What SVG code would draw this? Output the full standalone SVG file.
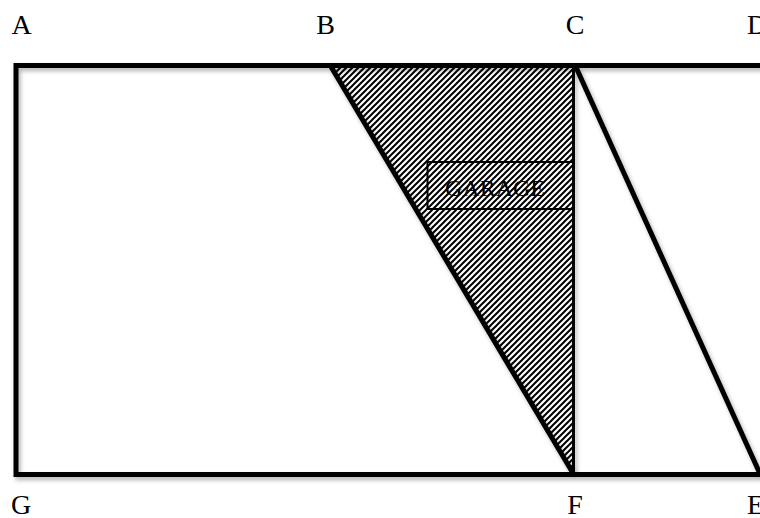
<svg xmlns="http://www.w3.org/2000/svg" width="760" height="518" viewBox="0 0 760 518">
<defs>
<pattern id="hatch" patternUnits="userSpaceOnUse" width="6" height="6">
<path d="M-1,1 L1,-1 M0,6 L6,0 M5,7 L7,5" stroke="#000" stroke-width="2"/>
</pattern>
<filter id="sh" x="-5%" y="-5%" width="110%" height="110%">
<feDropShadow dx="2" dy="3" stdDeviation="2" flood-color="#000" flood-opacity="0.3"/>
</filter>
</defs>
<style>
.lbl{font-family:"Liberation Serif","DejaVu Serif",serif;font-size:28px;fill:#000}
.thick{stroke:#000;stroke-width:5;fill:none;stroke-linecap:butt}
.thin{stroke:#000;stroke-width:3;fill:none}
.gar{font-family:"Liberation Serif","DejaVu Serif",serif;font-size:24px;fill:#000}
</style>
<rect width="760" height="518" fill="#fff"/>
<g id="garage-area">
<polygon points="330,65 573.5,65 573.5,474" fill="url(#hatch)"/>
</g>
<g id="lines" filter="url(#sh)">
<polyline class="thick" points="765,65.5 16,65.5 16,474.5 765,474.5"/>
<line class="thick" x1="330" y1="65" x2="573.5" y2="474"/>
<line class="thin" x1="573.5" y1="65" x2="573.5" y2="474"/>
<line class="thick" x1="575" y1="65" x2="761" y2="476"/>
</g>
<g id="garage">
<rect x="427.5" y="162" width="146" height="47" fill="none" stroke="#000" stroke-width="2"/>
<text class="gar" x="495" y="196" text-anchor="middle">GARAGE</text>
</g>
<g id="labels">
<text class="lbl" x="21.5" y="34" text-anchor="middle">A</text>
<text class="lbl" x="325.5" y="34" text-anchor="middle">B</text>
<text class="lbl" x="575" y="34" text-anchor="middle">C</text>
<text class="lbl" x="747" y="34">D</text>
<text class="lbl" x="21" y="514" text-anchor="middle">G</text>
<text class="lbl" x="575" y="514" text-anchor="middle">F</text>
<text class="lbl" x="747" y="514">E</text>
</g>
</svg>
